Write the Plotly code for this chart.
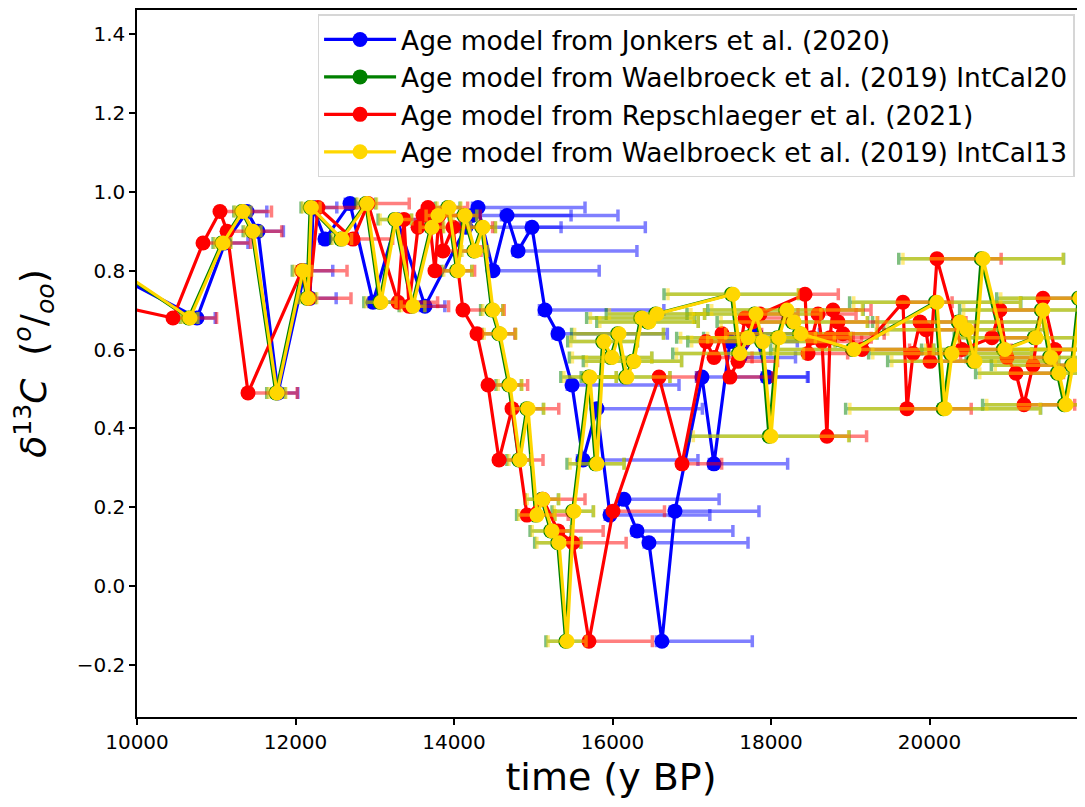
import plotly.graph_objects as go

# d13C values shared by every age model (same core samples)
d13c = [0.80, 0.68, 0.87, 0.95, 0.90, 0.49, 0.80, 0.73, 0.96, 0.88,
        0.97, 0.72, 0.93, 0.71, 0.91, 0.94, 0.96, 0.80, 0.94, 0.85,
        0.91, 0.70, 0.64, 0.51, 0.32, 0.45, 0.18, 0.22, 0.14, 0.11,
        -0.14, 0.19, 0.53, 0.31, 0.62, 0.58, 0.64, 0.53, 0.57, 0.68,
        0.67, 0.69, 0.74, 0.59, 0.63, 0.69, 0.62, 0.38, 0.63, 0.70,
        0.67, 0.64, 0.60, 0.72, 0.45, 0.59, 0.67, 0.65, 0.57, 0.83,
        0.60, 0.63, 0.70, 0.58, 0.54, 0.46, 0.56, 0.73, 0.60]

# Jonkers et al. (2020)
jonkers_age = [9620, 10757, 11110, 11388, 11527, 11779, 12120, 12183, 12221, 12372,
               12688, 12978, 13281, 13634, 14151, 14227, 14303, 14492, 14669, 14808,
               14984, 15148, 15312, 15489, 15628, 15804, 15968, 16145, 16309, 16460,
               16624, 16788, 17129, 17280, 17482, 17609, 17810, 17950]
jonkers_err_plus = [300, 230, 290, 250, 320, 250, 350, 330, 300, 280,
                    260, 320, 300, 250, 1200, 1250, 1350, 1340, 1400, 1500,
                    1430, 1500, 1380, 1350, 1450, 1330, 1260, 1200, 1210, 1250,
                    1140, 1060, 1330, 930, 850, 700, 800, 520]
jonkers_err_minus = [50, 60, 50, 60, 60, 50, 60, 60, 50, 60,
                     60, 50, 60, 60, 70, 60, 70, 60, 70, 60,
                     60, 70, 60, 60, 70, 60, 60, 70, 60, 60,
                     70, 60, 70, 60, 60, 70, 60, 60]

# Waelbroeck et al. (2019) IntCal20
intcal20_age = [9765, 10652, 11070, 11322, 11450, 11752, 12080, 12143, 12185, 12570,
                12887, 13062, 13252, 13468, 13706, 13783, 13921, 14034, 14123, 14250,
                14350, 14476, 14564, 14690, 14817, 14918, 15030, 15107, 15220, 15308,
                15410, 15497, 15698, 15786, 15875, 15976, 16064, 16165, 16252, 16354,
                16442, 16542, 17500, 17590, 17690, 17790, 17880, 17975, 18080, 18182,
                18270, 18358, 19025, 20072, 20172, 20262, 20362, 20452, 20552, 20652,
                20930, 21322, 21410, 21512, 21612, 21700, 21790, 21878, 21955]
intcal20_err = [110, 105, 110, 100, 110, 115, 120, 110, 115, 125,
                125, 200, 210, 160, 155, 160, 155, 190, 160, 165,
                170, 140, 210, 160, 150, 210, 240, 210, 260, 290,
                250, 260, 350, 360, 440, 520, 580, 560, 620, 680,
                640, 620, 850, 830, 880, 850, 930, 1010, 930, 980,
                950, 980, 1030, 1080, 1230, 1030, 1080, 1030, 1080, 1040,
                1030, 1010, 1030, 1050, 1030, 1030, 1010, 1030, 1030]

# Repschlaeger et al. (2021)
repsch_age = [7750, 10454, 10833, 11047, 11136, 11401, 12080, 12170, 12284, 12726,
              12915, 13293, 13369, 13432, 13546, 13609, 13672, 13760, 13811, 13861,
              13987, 14113, 14290, 14429, 14568, 14732, 14921, 15123, 15312, 15502,
              15703, 16006, 16587, 16877, 17180, 17281, 17382, 17482, 17583, 17672,
              17760, 17861, 18429, 18467, 18517, 18593, 18643, 18706, 18744, 18782,
              18845, 18908, 19148, 19665, 19716, 19792, 19880, 19956, 20006, 20094,
              20410, 20788, 20889, 20978, 21091, 21192, 21306, 21432, 21583]
repsch_err_plus = [600, 550, 600, 650, 690, 620, 570, 530, 560, 500,
                   520, 500, 480, 500, 520, 480, 500, 500, 520, 480,
                   500, 520, 480, 500, 555, 590, 520, 530, 570, 670,
                   800, 650, 480, 500, 520, 480, 500, 540, 500, 520,
                   500, 480, 420, 500, 520, 480, 500, 500, 520, 480,
                   500, 520, 600, 620, 810, 600, 580, 620, 600, 810,
                   620, 600, 580, 620, 600, 640, 600, 620, 600]
repsch_err_minus = [40, 30, 40, 40, 30, 40, 40, 30, 40, 40,
                    30, 40, 40, 30, 40, 40, 30, 40, 40, 30,
                    40, 40, 30, 40, 40, 30, 40, 40, 30, 40,
                    40, 30, 40, 40, 30, 40, 40, 30, 40, 40,
                    30, 40, 40, 30, 40, 40, 30, 40, 40, 30,
                    40, 40, 30, 40, 40, 30, 40, 40, 30, 40,
                    40, 30, 40, 40, 30, 40, 40, 30, 40]

# Waelbroeck et al. (2019) IntCal13
intcal13_age = [9780, 10669, 11085, 11337, 11464, 11767, 12095, 12158, 12200, 12587,
                12902, 13079, 13268, 13483, 13722, 13798, 13937, 14050, 14139, 14265,
                14366, 14492, 14580, 14707, 14833, 14934, 15047, 15123, 15237, 15325,
                15426, 15514, 15716, 15804, 15893, 15994, 16082, 16183, 16271, 16372,
                16460, 16561, 17520, 17609, 17710, 17810, 17899, 18000, 18101, 18202,
                18290, 18378, 19047, 20094, 20195, 20284, 20385, 20473, 20574, 20675,
                20952, 21343, 21431, 21533, 21634, 21722, 21810, 21899, 21975]
intcal13_err = [100, 100, 100, 100, 100, 110, 110, 110, 110, 120,
                120, 190, 200, 150, 150, 150, 150, 180, 150, 160,
                160, 130, 200, 150, 140, 200, 230, 200, 250, 280,
                240, 250, 330, 340, 420, 500, 560, 540, 600, 650,
                620, 600, 820, 800, 850, 820, 900, 980, 900, 950,
                920, 950, 1000, 1050, 1200, 1000, 1050, 1000, 1050, 1010,
                1000, 980, 1000, 1020, 1000, 1000, 980, 1000, 1000]

x_ticks = [10000, 12000, 14000, 16000, 18000, 20000]
x_ticklabels = ["10000", "12000", "14000", "16000", "18000", "20000"]
y_ticks = [-0.2, 0.0, 0.2, 0.4, 0.6, 0.8, 1.0, 1.2, 1.4]
y_ticklabels = ["\u22120.2", "0.0", "0.2", "0.4", "0.6", "0.8", "1.0", "1.2", "1.4"]

FONT = "DejaVu Sans"


def age_model(name, ages, color, err_color, err_plus, err_minus=None):
    if err_minus is None:
        err = dict(type="data", symmetric=True, array=err_plus)
    else:
        err = dict(type="data", symmetric=False, array=err_plus, arrayminus=err_minus)
    err.update(color=err_color, thickness=3.5, width=6)
    return go.Scatter(
        x=ages,
        y=d13c[:len(ages)],
        mode="lines+markers",
        name=name,
        line=dict(color=color, width=3.2),
        marker=dict(color=color, size=15),
        error_x=err,
    )


fig = go.Figure()
fig.add_trace(age_model("Age model from Jonkers et al. (2020)", jonkers_age,
                        "#0000ff", "rgba(0,0,255,0.5)", jonkers_err_plus, jonkers_err_minus))
fig.add_trace(age_model("Age model from Waelbroeck et al. (2019) IntCal20", intcal20_age,
                        "#008000", "rgba(0,128,0,0.5)", intcal20_err))
fig.add_trace(age_model("Age model from Repschlaeger et al. (2021)", repsch_age,
                        "#ff0000", "rgba(255,0,0,0.5)", repsch_err_plus, repsch_err_minus))
fig.add_trace(age_model("Age model from Waelbroeck et al. (2019) IntCal13", intcal13_age,
                        "#ffd700", "rgba(255,215,0,0.5)", intcal13_err))

axis_common = dict(
    showgrid=False,
    zeroline=False,
    showline=True,
    linecolor="black",
    linewidth=1.5,
    ticks="outside",
    ticklen=6,
    tickwidth=1.5,
    tickcolor="black",
    tickfont=dict(family=FONT, size=20, color="black"),
    automargin=False,
)

# the page body adds an 8px offset; size the figure so the page does not overflow
fig.update_layout(
    width=1077,
    height=791,
    margin=dict(l=129, r=0, t=2, b=82, pad=0),
    paper_bgcolor="white",
    plot_bgcolor="white",
    font=dict(family=FONT, color="black"),
    xaxis=dict(
        axis_common,
        range=[10000, 21962],
        tickvals=x_ticks,
        ticktext=x_ticklabels,
        mirror=True,
        title=dict(text="time (y BP)", font=dict(family=FONT, size=38), standoff=12),
    ),
    yaxis=dict(
        axis_common,
        range=[-0.332, 1.461],
        tickvals=y_ticks,
        ticktext=y_ticklabels,
        title=dict(
            text="<i>\u03b4</i><sup>13</sup><i>C</i>  (<sup><i>o</i></sup>/<sub><i>oo</i></sub>)",
            font=dict(family=FONT, size=36),
            standoff=22,
        ),
    ),
    legend=dict(
        x=0.989,
        y=0.994,
        xanchor="right",
        yanchor="top",
        bgcolor="rgba(255,255,255,0.8)",
        bordercolor="#d6d6d6",
        borderwidth=1.5,
        font=dict(family=FONT, size=26.5, color="black"),
        itemwidth=72,
    ),
    showlegend=True,
)

fig.write_html("out.html")
